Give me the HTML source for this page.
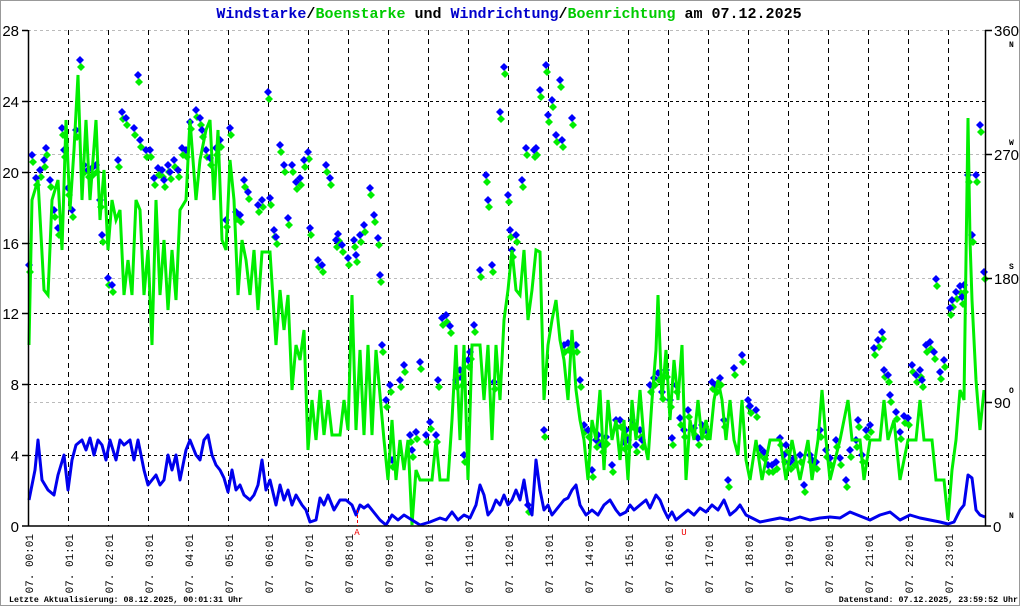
<!DOCTYPE html>
<html><head><meta charset="utf-8"><style>
html,body{margin:0;padding:0;background:#fff}
svg{display:block}
</style></head><body>
<svg width="1020" height="606" xmlns="http://www.w3.org/2000/svg" font-family="Liberation Mono, monospace">
<defs>
<marker id="db" markerWidth="9" markerHeight="9" refX="4.5" refY="4.5" markerUnits="userSpaceOnUse"><path d="M4.5 0.5 L8.5 4.5 L4.5 8.5 L0.5 4.5Z" fill="#0000ff"/></marker>
<marker id="dg" markerWidth="9" markerHeight="9" refX="4.5" refY="4.5" markerUnits="userSpaceOnUse"><path d="M4.5 0.5 L8.5 4.5 L4.5 8.5 L0.5 4.5Z" fill="#00ee00"/></marker>
</defs>
<rect x="0.5" y="0.5" width="1019" height="605" fill="#fff" stroke="#999" stroke-width="1"/>
<text x="509" y="18" text-anchor="middle" font-size="15" font-weight="bold"><tspan fill="#0000cc">Windstarke</tspan><tspan fill="#000">/</tspan><tspan fill="#00cc00">Boenstarke</tspan><tspan fill="#000"> und </tspan><tspan fill="#0000cc">Windrichtung</tspan><tspan fill="#000">/</tspan><tspan fill="#00cc00">Boenrichtung</tspan><tspan fill="#000"> am 07.12.2025</tspan></text>
<g stroke="#bbb" stroke-dasharray="3,3" stroke-width="1">
<line x1="28" x2="985" y1="30.5" y2="30.5"/><line x1="28" x2="985" y1="154.5" y2="154.5"/><line x1="28" x2="985" y1="278.5" y2="278.5"/><line x1="28" x2="985" y1="402.5" y2="402.5"/>
</g>
<g stroke="#000" stroke-dasharray="3,3" stroke-width="1">
<line x1="28" x2="985" y1="455.5" y2="455.5"/><line x1="28" x2="985" y1="384.5" y2="384.5"/><line x1="28" x2="985" y1="313.5" y2="313.5"/><line x1="28" x2="985" y1="243.5" y2="243.5"/><line x1="28" x2="985" y1="172.5" y2="172.5"/><line x1="28" x2="985" y1="101.5" y2="101.5"/>
</g>
<g stroke="#000" stroke-dasharray="5,4" stroke-width="1">
<line x1="68.5" x2="68.5" y1="30" y2="526"/><line x1="108.5" x2="108.5" y1="30" y2="526"/><line x1="148.5" x2="148.5" y1="30" y2="526"/><line x1="188.5" x2="188.5" y1="30" y2="526"/><line x1="228.5" x2="228.5" y1="30" y2="526"/><line x1="268.5" x2="268.5" y1="30" y2="526"/><line x1="308.5" x2="308.5" y1="30" y2="526"/><line x1="348.5" x2="348.5" y1="30" y2="526"/><line x1="388.5" x2="388.5" y1="30" y2="526"/><line x1="428.5" x2="428.5" y1="30" y2="526"/><line x1="468.5" x2="468.5" y1="30" y2="526"/><line x1="508.5" x2="508.5" y1="30" y2="526"/><line x1="548.5" x2="548.5" y1="30" y2="526"/><line x1="588.5" x2="588.5" y1="30" y2="526"/><line x1="628.5" x2="628.5" y1="30" y2="526"/><line x1="668.5" x2="668.5" y1="30" y2="526"/><line x1="708.5" x2="708.5" y1="30" y2="526"/><line x1="748.5" x2="748.5" y1="30" y2="526"/><line x1="788.5" x2="788.5" y1="30" y2="526"/><line x1="828.5" x2="828.5" y1="30" y2="526"/><line x1="868.5" x2="868.5" y1="30" y2="526"/><line x1="908.5" x2="908.5" y1="30" y2="526"/><line x1="948.5" x2="948.5" y1="30" y2="526"/>
</g>
<polyline transform="translate(1,7)" fill="none" stroke="none" marker-start="url(#dg)" marker-mid="url(#dg)" marker-end="url(#dg)" points="29,265 32,155 36,178 40,170 44,160 46,148 50,180 54,210 58,228 62,128 64,150 68,188 72,210 76,130 80,60 84,165 88,170 92,168 96,165 100,200 102,235 108,278 112,285 118,160 122,112 126,118 134,128 138,75 140,140 146,150 150,150 154,178 158,168 162,170 164,180 168,165 170,172 174,160 178,170 182,148 186,150 190,122 196,110 200,118 202,130 206,150 210,158 216,148 220,140 226,220 230,128 236,212 240,215 244,180 248,192 258,205 262,200 268,92 270,198 274,230 276,237 280,145 284,165 288,218 292,165 296,182 300,178 304,160 308,152 310,228 318,260 322,265 326,165 330,178 336,240 338,234 342,245 348,258 354,240 356,255 360,235 364,225 370,188 374,215 378,238 380,275 382,345 386,400 390,385 392,460 400,380 404,365 410,435 412,450 416,432 420,362 426,435 430,422 436,435 438,380 442,318 446,315 450,326 456,380 460,370 462,378 464,455 468,360 470,352 474,325 480,270 486,175 488,200 492,265 494,382 500,112 504,67 508,195 510,230 512,250 516,235 522,180 526,148 528,505 534,150 536,148 540,90 544,430 546,65 548,115 552,100 556,135 560,80 562,140 564,345 568,343 572,118 576,345 580,380 584,425 588,430 592,470 596,440 598,435 602,445 606,437 612,465 616,420 620,420 624,442 626,430 628,440 632,420 636,445 640,430 642,440 650,385 654,378 658,373 662,392 666,370 670,400 672,438 676,385 680,418 684,430 688,410 694,428 698,438 702,425 706,430 712,382 716,385 720,378 724,420 728,480 734,368 742,355 748,400 750,406 756,410 760,448 764,452 768,465 772,465 776,462 780,438 784,455 786,445 790,462 794,458 800,455 804,485 810,455 812,460 816,462 820,430 826,450 830,458 836,440 840,458 846,480 850,450 856,440 858,420 862,455 866,430 870,425 874,348 878,340 882,332 884,370 888,375 890,395 896,412 900,432 904,416 908,418 912,365 916,375 920,370 922,380 926,345 930,342 934,352 936,279 940,372 944,360 950,308 952,300 956,292 960,286 962,297 964,285 968,175 972,235 976,175 980,125 984,272"/>
<polyline fill="none" stroke="none" marker-start="url(#db)" marker-mid="url(#db)" marker-end="url(#db)" points="29,265 32,155 36,178 40,170 44,160 46,148 50,180 54,210 58,228 62,128 64,150 68,188 72,210 76,130 80,60 84,165 88,170 92,168 96,165 100,200 102,235 108,278 112,285 118,160 122,112 126,118 134,128 138,75 140,140 146,150 150,150 154,178 158,168 162,170 164,180 168,165 170,172 174,160 178,170 182,148 186,150 190,122 196,110 200,118 202,130 206,150 210,158 216,148 220,140 226,220 230,128 236,212 240,215 244,180 248,192 258,205 262,200 268,92 270,198 274,230 276,237 280,145 284,165 288,218 292,165 296,182 300,178 304,160 308,152 310,228 318,260 322,265 326,165 330,178 336,240 338,234 342,245 348,258 354,240 356,255 360,235 364,225 370,188 374,215 378,238 380,275 382,345 386,400 390,385 392,460 400,380 404,365 410,435 412,450 416,432 420,362 426,435 430,422 436,435 438,380 442,318 446,315 450,326 456,380 460,370 462,378 464,455 468,360 470,352 474,325 480,270 486,175 488,200 492,265 494,382 500,112 504,67 508,195 510,230 512,250 516,235 522,180 526,148 528,505 534,150 536,148 540,90 544,430 546,65 548,115 552,100 556,135 560,80 562,140 564,345 568,343 572,118 576,345 580,380 584,425 588,430 592,470 596,440 598,435 602,445 606,437 612,465 616,420 620,420 624,442 626,430 628,440 632,420 636,445 640,430 642,440 650,385 654,378 658,373 662,392 666,370 670,400 672,438 676,385 680,418 684,430 688,410 694,428 698,438 702,425 706,430 712,382 716,385 720,378 724,420 728,480 734,368 742,355 748,400 750,406 756,410 760,448 764,452 768,465 772,465 776,462 780,438 784,455 786,445 790,462 794,458 800,455 804,485 810,455 812,460 816,462 820,430 826,450 830,458 836,440 840,458 846,480 850,450 856,440 858,420 862,455 866,430 870,425 874,348 878,340 882,332 884,370 888,375 890,395 896,412 900,432 904,416 908,418 912,365 916,375 920,370 922,380 926,345 930,342 934,352 936,279 940,372 944,360 950,308 952,300 956,292 960,286 962,297 964,285 968,175 972,235 976,175 980,125 984,272"/>
<polyline fill="none" stroke="#00ee00" stroke-width="3" stroke-linejoin="miter" points="29,345 32,200 38,180 44,290 48,295 52,200 58,180 62,250 66,120 70,210 74,150 78,75 82,200 86,120 90,200 96,120 100,220 104,170 108,250 112,200 116,220 120,210 124,295 128,260 132,295 136,200 140,210 144,295 148,250 152,345 156,200 160,295 164,240 168,310 172,250 176,300 180,210 186,200 190,120 196,200 200,160 206,130 210,120 214,200 218,130 222,240 226,250 230,160 234,200 238,295 242,240 246,260 250,295 254,250 258,310 262,252 270,252 276,345 280,290 284,330 288,295 292,390 296,345 300,360 304,330 308,450 312,400 316,440 320,390 324,435 328,400 332,435 340,435 344,400 348,430 352,295 356,430 360,350 364,435 368,345 372,435 376,350 384,440 388,480 392,420 396,480 400,440 404,470 408,440 412,525 416,470 420,480 432,480 436,440 440,480 448,480 452,420 456,345 460,440 464,345 468,480 472,345 480,345 484,400 488,345 492,440 496,345 500,400 504,320 508,290 512,250 516,290 520,295 524,250 528,320 532,290 536,250 540,252 544,400 548,345 552,320 556,300 560,340 564,360 568,400 572,330 576,390 580,420 584,440 588,480 592,420 596,440 600,390 604,470 608,400 612,440 616,420 620,460 624,420 628,480 632,400 636,440 640,390 644,440 648,460 652,400 656,350 658,295 662,400 666,350 670,420 674,360 678,400 682,345 686,480 690,420 694,440 698,400 702,440 706,420 710,440 714,400 718,380 722,400 726,440 730,400 734,440 738,455 742,400 746,460 750,480 756,440 762,480 770,440 780,440 786,480 792,440 800,480 808,440 812,480 818,440 822,390 826,440 830,480 840,440 848,400 852,440 860,440 864,480 870,440 880,440 884,400 888,440 894,420 900,480 908,440 916,440 920,400 924,440 932,440 936,480 944,480 948,520 952,470 956,440 960,390 964,400 968,118 970,240 972,300 976,380 980,430 984,390"/>
<polyline fill="none" stroke="#0000ee" stroke-width="3" stroke-linejoin="round" points="29,500 35,470 38,440 42,480 48,490 54,495 58,475 64,455 68,490 72,460 76,445 82,440 86,450 90,438 94,455 98,440 102,445 106,460 110,440 116,460 120,440 124,445 130,440 134,460 138,440 144,470 148,485 152,480 156,475 160,485 164,480 168,455 172,470 176,455 180,480 186,450 190,440 196,455 200,460 204,440 208,435 212,455 216,465 220,470 224,478 228,492 232,470 236,490 240,485 244,495 250,500 254,495 258,485 262,460 266,490 270,480 276,505 280,485 284,500 288,490 292,505 296,495 302,505 306,510 310,522 316,520 320,498 324,505 328,495 334,510 340,500 346,500 352,505 356,515 360,505 364,508 368,505 372,510 376,515 380,520 386,525 392,515 398,520 404,515 412,520 420,525 430,522 440,518 446,520 452,512 458,520 464,515 470,518 476,505 480,485 484,495 488,515 492,510 496,500 500,505 504,495 508,505 512,500 516,490 520,500 524,480 528,505 532,515 536,460 540,490 544,510 548,505 552,515 556,510 560,505 564,500 568,498 572,490 576,485 580,505 586,515 592,510 598,515 604,505 610,500 616,510 620,515 626,512 630,505 634,510 640,505 646,500 650,508 656,495 660,500 664,510 668,518 672,512 676,520 682,515 688,510 694,515 700,508 706,512 712,505 718,510 724,500 730,515 736,510 740,505 746,515 752,518 760,522 770,520 780,518 790,520 800,517 810,520 820,518 830,517 840,518 850,512 860,516 870,520 880,515 890,512 900,520 910,515 920,518 930,520 940,522 948,524 954,522 960,510 964,505 968,475 972,478 976,510 980,515 985,517"/>
<g stroke="#000" stroke-width="1.5">
<line x1="28.5" y1="30" x2="28.5" y2="526"/><line x1="985.5" y1="30" x2="985.5" y2="526"/><line x1="22" y1="526" x2="991" y2="526"/>
<line x1="22" y1="30.5" x2="28" y2="30.5"/><line x1="22" y1="101.5" x2="28" y2="101.5"/><line x1="22" y1="172.5" x2="28" y2="172.5"/><line x1="22" y1="243.5" x2="28" y2="243.5"/><line x1="22" y1="313.5" x2="28" y2="313.5"/><line x1="22" y1="384.5" x2="28" y2="384.5"/><line x1="22" y1="455.5" x2="28" y2="455.5"/>
<line x1="985" y1="30.5" x2="992" y2="30.5"/><line x1="985" y1="154.5" x2="992" y2="154.5"/><line x1="985" y1="278.5" x2="992" y2="278.5"/><line x1="985" y1="402.5" x2="992" y2="402.5"/>
</g>
<line x1="357.5" y1="510" x2="357.5" y2="526" stroke="#e00" stroke-dasharray="3,2"/>
<text x="357" y="535" font-size="9" fill="#e00" text-anchor="middle">A</text>
<text x="684" y="535" font-size="9" fill="#e00" text-anchor="middle">U</text>
<g font-family="Liberation Sans, sans-serif" font-size="15" fill="#000" text-anchor="end">
<text x="19" y="36">28</text><text x="19" y="107">24</text><text x="19" y="178">20</text><text x="19" y="249">16</text><text x="19" y="319">12</text><text x="19" y="390">8</text><text x="19" y="461">4</text><text x="19" y="532">0</text>
</g>
<g font-family="Liberation Sans, sans-serif" font-size="15" fill="#000">
<text x="994" y="36">360</text><text x="994" y="160">270</text><text x="994" y="284">180</text><text x="994" y="408">90</text><text x="993" y="532">0</text>
</g>
<g font-size="8" font-weight="bold" fill="#000">
<text x="1009" y="47">N</text><text x="1009" y="145">W</text><text x="1009" y="269">S</text><text x="1009" y="393">O</text><text x="1009" y="518">N</text>
</g>
<g font-size="11" fill="#000" text-anchor="end">
<text transform="translate(33,534) rotate(-90)">07. 00:01</text><text transform="translate(73,534) rotate(-90)">07. 01:01</text><text transform="translate(113,534) rotate(-90)">07. 02:01</text><text transform="translate(153,534) rotate(-90)">07. 03:01</text><text transform="translate(193,534) rotate(-90)">07. 04:01</text><text transform="translate(233,534) rotate(-90)">07. 05:01</text><text transform="translate(273,534) rotate(-90)">07. 06:01</text><text transform="translate(313,534) rotate(-90)">07. 07:01</text><text transform="translate(353,534) rotate(-90)">07. 08:01</text><text transform="translate(393,534) rotate(-90)">07. 09:01</text><text transform="translate(433,534) rotate(-90)">07. 10:01</text><text transform="translate(473,534) rotate(-90)">07. 11:01</text><text transform="translate(513,534) rotate(-90)">07. 12:01</text><text transform="translate(553,534) rotate(-90)">07. 13:01</text><text transform="translate(593,534) rotate(-90)">07. 14:01</text><text transform="translate(633,534) rotate(-90)">07. 15:01</text><text transform="translate(673,534) rotate(-90)">07. 16:01</text><text transform="translate(713,534) rotate(-90)">07. 17:01</text><text transform="translate(753,534) rotate(-90)">07. 18:01</text><text transform="translate(793,534) rotate(-90)">07. 19:01</text><text transform="translate(833,534) rotate(-90)">07. 20:01</text><text transform="translate(873,534) rotate(-90)">07. 21:01</text><text transform="translate(913,534) rotate(-90)">07. 22:01</text><text transform="translate(953,534) rotate(-90)">07. 23:01</text>
</g>
<text x="9" y="602" font-size="8.3" font-weight="bold" fill="#000">Letzte Aktualisierung: 08.12.2025, 00:01:31 Uhr</text>
<text x="1018" y="602" font-size="8.3" font-weight="bold" fill="#000" text-anchor="end">Datenstand: 07.12.2025, 23:59:52 Uhr</text>
</svg>
</body></html>
